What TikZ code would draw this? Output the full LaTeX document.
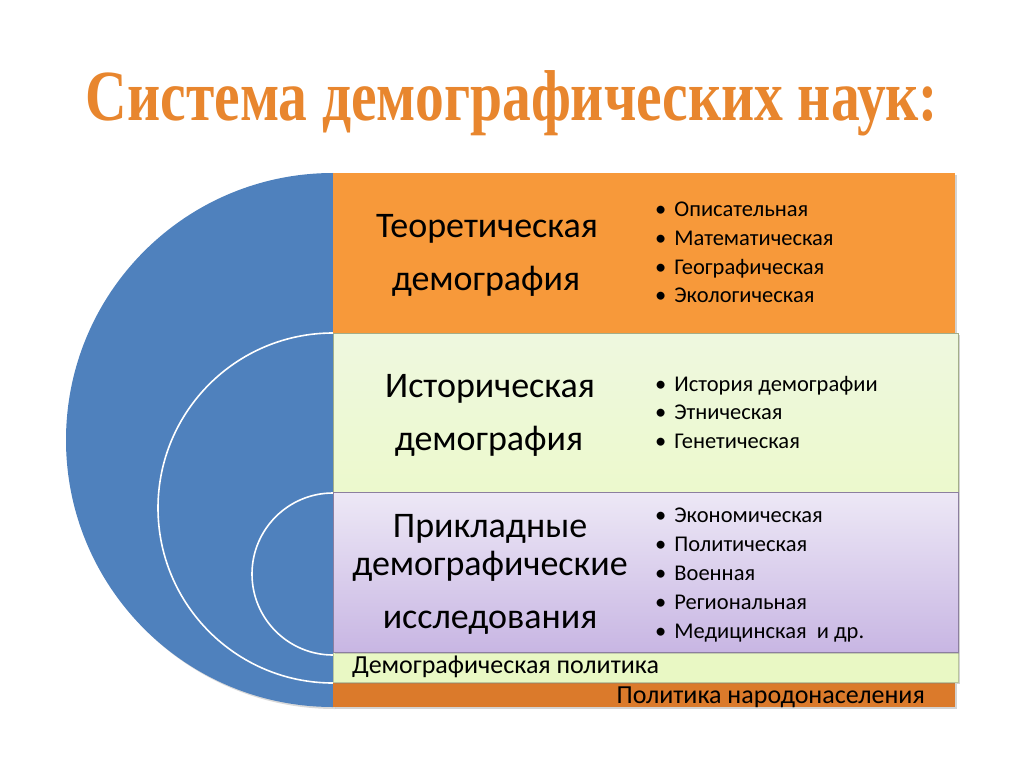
\documentclass[tikz,border=0pt]{standalone}
\usepackage{fontspec}
\setmainfont{Carlito}
\newfontfamily\titlefont[FakeStretch=0.8]{Liberation Serif}
\usetikzlibrary{shadows}

\definecolor{azul}{HTML}{4F81BD}
\definecolor{laranja}{HTML}{F7993A}
\definecolor{laranjaEsc}{HTML}{DB7A2B}
\definecolor{verdeCl}{HTML}{EEF8DF}
\definecolor{verdeLim}{HTML}{E9F8C4}
\definecolor{lilasCl}{HTML}{EDE8F6}
\definecolor{lilas}{HTML}{C8B6E3}
\definecolor{titulo}{HTML}{E8862E}

\tikzset{
  caixa/.style={anchor=north west, inner sep=0pt, minimum width=622pt,
    drop shadow={shadow xshift=2pt, shadow yshift=-2pt, opacity=0.35}},
  rotulo/.style={anchor=base, inner sep=0pt, font=\fontsize{36}{40}\selectfont},
  item/.style={anchor=base west, inner sep=0pt, font=\fontsize{22.5}{24}\selectfont},
  faixa/.style={inner sep=0pt, font=\fontsize{26}{28}\selectfont}
}

\begin{document}
\begin{tikzpicture}[x=1pt, y=-1pt]
    \useasboundingbox (0,0) rectangle (1024,767);

    % título
    \node[font=\titlefont\bfseries\fontsize{72}{80}\selectfont, text=titulo] (cabecalho) at (512,103)
        {Система демографических наук:};

    % semicírculo
    \fill[azul, drop shadow={shadow xshift=2pt, shadow yshift=-2pt, opacity=0.3}]
        (333,173) arc[start angle=270, end angle=90, radius=267] -- cycle;
    \draw[white, line width=1.6pt] (333,333) arc[start angle=270, end angle=90, radius=175];
    \draw[white, line width=1.6pt] (333,493) arc[start angle=270, end angle=90, radius=81];

    % faixas de baixo
    \node[caixa, fill=laranjaEsc, minimum width=622pt, minimum height=25pt] (povo) at (333,682) {};
    \node[caixa, fill=verdeLim, draw=verdeLim!80!black, minimum width=625pt, minimum height=30pt] (politica) at (333,652) {};

    % caixas
    \node[caixa, fill=laranja, minimum height=160pt] (teor) at (333,173) {};
    \node[caixa, top color=verdeCl, bottom color=verdeLim!85!white, draw=verdeLim!70!black,
        minimum width=625pt, minimum height=159pt] (hist) at (333,333) {};
    \node[caixa, top color=lilasCl, bottom color=lilas, draw=lilas!70!black,
        minimum width=625pt, minimum height=160pt] (apl) at (333,492) {};

    % rótulos
    \node[rotulo] (teorA) at (487,237) {Теоретическая};
    \node[rotulo] (teorB) at (486,290) {демография};
    \node[rotulo] (histA) at (490,397) {Историческая};
    \node[rotulo] (histB) at (489,450) {демография};
    \node[rotulo] (aplA) at (490,537) {Прикладные};
    \node[rotulo] (aplB) at (490,575) {демографические};
    \node[rotulo] (aplC) at (490,628) {исследования};

    % listas
    \foreach \t [count=\i] in {Описательная, Математическая, Географическая, Экологическая}
        \node[item] (lt\i) at (655, 188.5+28.5*\i) {\textbullet\hspace{8pt}\t};
    \foreach \t [count=\i] in {История демографии, Этническая, Генетическая}
        \node[item] (lh\i) at (655, 362.5+28.5*\i) {\textbullet\hspace{8pt}\t};
    \foreach \t [count=\i] in {Экономическая, Политическая, Военная, Региональная, Медицинская\ \ и др.}
        \node[item] (la\i) at (655, 494+28.8*\i) {\textbullet\hspace{8pt}\t};

    \node[faixa, anchor=base west] (txtpol) at (352,673) {Демографическая политика};
    \node[faixa, anchor=base east] (txtpovo) at (925,703) {Политика народонаселения};

\end{tikzpicture}
\end{document}
